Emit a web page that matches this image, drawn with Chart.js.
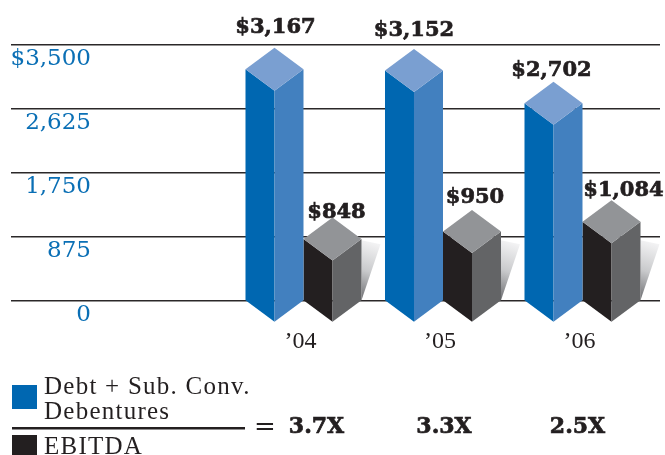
<!DOCTYPE html>
<html>
<head>
<meta charset="utf-8">
<title>Debt and EBITDA</title>
<style>
  html, body { margin: 0; padding: 0; background: #fff; }
  canvas { display: block; }
</style>
<script src="https://cdn.jsdelivr.net/npm/chart.js@4/dist/chart.umd.min.js"></script>
</head>
<body>
<canvas id="debtChart" width="665" height="455"></canvas>
<script>
// $ millions, year by year
const years = ['’04', '’05', '’06'];
const debtValues = [3167, 3152, 2702];
const ebitdaValues = [848, 950, 1084];
const ratios = ['3.7X', '3.3X', '2.5X'];
const tickValues = [0, 875, 1750, 2625, 3500];
const tickLabels = ['0', '875', '1,750', '2,625', '$3,500'];
const debtLabels = ['$3,167', '$3,152', '$2,702'];
const ebitdaLabels = ['$848', '$950', '$1,084'];

// hand nudges for the value labels [dx, dy from the back corner of the prism]
const debtNudge = [[1, -20], [0, -18], [-2, -11]];
const ebitdaNudge = [[4, -5], [3, -12], [12, -10]];
const ratioNudge = [13, 1, -5];

const DEPTH = 21.5;
const INK = '#231f20';
const BLUE = '#0067b1';
const SERIF = '"Liberation Serif", serif';
const SLAB = '"DejaVu Serif", serif';

const faces = {
    [BLUE]: { right: '#4280bf', top: '#7a9fd1' },
    [INK]: { right: '#636466', top: '#929497' }
};

function poly(ctx, pts, fill) {
    ctx.beginPath();
    pts.forEach((p, i) => i ? ctx.lineTo(p[0], p[1]) : ctx.moveTo(p[0], p[1]));
    ctx.closePath();
    ctx.fillStyle = fill;
    ctx.fill();
}

function drawPrism(ctx, bar, color, withShadow) {
    const l = bar.x - bar.width / 2;
    const r = bar.x + bar.width / 2;
    const top = bar.y;
    const base = bar.base;

    if (withShadow) {
        const grad = ctx.createLinearGradient(r + 19, base - 56, r, base);
        grad.addColorStop(0, '#f4f4f5');
        grad.addColorStop(0.5, '#c9cacc');
        grad.addColorStop(1, '#6d6e71');
        poly(ctx, [[r, Math.max(top, base - 60)], [r + 19, base - 56], [r, base]], grad);
    }
    poly(ctx, [[l, top], [bar.x, top + DEPTH], [bar.x, base + DEPTH], [l, base]], color);
    poly(ctx, [[bar.x, top + DEPTH], [r, top], [r, base], [bar.x, base + DEPTH]], faces[color].right);
    poly(ctx, [[l, top], [bar.x, top - DEPTH], [r, top], [bar.x, top + DEPTH]], faces[color].top);
}

// replaces the flat bars with three-faced prisms
const prismPlugin = {
    id: 'prisms',
    beforeDatasetDraw(chart, args) {
        const ds = chart.data.datasets[args.index];
        args.meta.data.forEach(bar => drawPrism(chart.ctx, bar, ds.backgroundColor, args.index === 1));
        return false;
    },
    afterDatasetsDraw(chart) {
        const ctx = chart.ctx;
        ctx.save();
        ctx.font = 'bold 21px ' + SLAB;
        ctx.fillStyle = INK;
        ctx.strokeStyle = INK;
        ctx.lineWidth = 0.7;
        ctx.textAlign = 'center';
        ctx.textBaseline = 'middle';
        chart.data.datasets.forEach((ds, d) => {
            chart.getDatasetMeta(d).data.forEach((bar, i) => {
                const n = ds.nudge[i];
                const tx = bar.x + n[0];
                const ty = bar.y - DEPTH + n[1];
                ctx.fillText(ds.valueLabels[i], tx, ty);
                ctx.strokeText(ds.valueLabels[i], tx, ty);
            });
        });
        ctx.restore();
    }
};

// ratio block under the plot
const ratioPlugin = {
    id: 'ratioBlock',
    afterDraw(chart) {
        const ctx = chart.ctx;
        const x = chart.scales.x;
        ctx.save();
        ctx.fillStyle = BLUE;
        ctx.fillRect(12, 385, 25, 24);
        ctx.fillStyle = INK;
        ctx.strokeStyle = INK;
        ctx.lineWidth = 0.7;
        ctx.fillRect(12, 435, 25, 20);
        ctx.fillRect(12, 427, 233, 2.5);

        ctx.textAlign = 'left';
        ctx.textBaseline = 'middle';
        ctx.font = '25px ' + SERIF;
        ctx.letterSpacing = '1.25px';
        ctx.fillText('Debt + Sub. Conv.', 44, 387);
        ctx.fillText('Debentures', 44, 412);
        ctx.fillText('EBITDA', 44, 447);

        ctx.letterSpacing = '0px';
        ctx.font = '26px ' + SLAB;
        ctx.fillText('=', 254, 428);

        ctx.textAlign = 'center';
        ctx.font = 'bold 22px ' + SLAB;
        ratios.forEach((r, i) => {
            const tx = x.getPixelForValue(i) + ratioNudge[i];
            ctx.fillText(r, tx, 427);
            ctx.strokeText(r, tx, 427);
        });
        ctx.restore();
    }
};

new Chart(document.getElementById('debtChart'), {
    type: 'bar',
    data: {
        datasets: [
            {
                label: 'Debt + Sub. Conv. Debentures',
                data: debtValues.map((v, i) => ({ x: i, y: v })),
                valueLabels: debtLabels,
                nudge: debtNudge,
                backgroundColor: BLUE
            },
            {
                label: 'EBITDA',
                data: ebitdaValues.map((v, i) => ({ x: i, y: v })),
                valueLabels: ebitdaLabels,
                nudge: ebitdaNudge,
                backgroundColor: INK
            }
        ]
    },
    options: {
        responsive: false,
        animation: false,
        layout: { padding: { top: 45, right: 5, left: 0, bottom: 0 } },
        barThickness: 58,
        plugins: {
            legend: { display: false },
            tooltip: { enabled: false }
        },
        scales: {
            x: {
                type: 'linear',
                offset: false,
                min: -1.4946,
                max: 2.5556,
                grid: { display: false, offset: false },
                border: { display: false },
                afterBuildTicks: scale => {
                    scale.ticks = years.map((y, i) => ({ value: i }));
                },
                afterFit: scale => { scale.height = 154; },
                ticks: {
                    autoSkip: false,
                    maxRotation: 0,
                    padding: 18,
                    labelOffset: -3,
                    color: INK,
                    font: { family: SERIF, size: 24 },
                    callback: value => years[value]
                }
            },
            y: {
                min: 0,
                max: 3500,
                border: { display: false },
                // the tick marks carry the rules out to the left margin
                grid: { color: '#2b2829', lineWidth: 1.5, tickLength: 84 },
                afterBuildTicks: scale => {
                    scale.ticks = tickValues.map(v => ({ value: v }));
                },
                afterFit: scale => { scale.width = 95; },
                ticks: {
                    padding: -80,
                    labelOffset: 14,
                    color: '#0a6fb5',
                    font: { family: SLAB, size: 23 },
                    callback: value => tickLabels[tickValues.indexOf(value)]
                }
            }
        }
    },
    plugins: [prismPlugin, ratioPlugin]
});
</script>
</body>
</html>
